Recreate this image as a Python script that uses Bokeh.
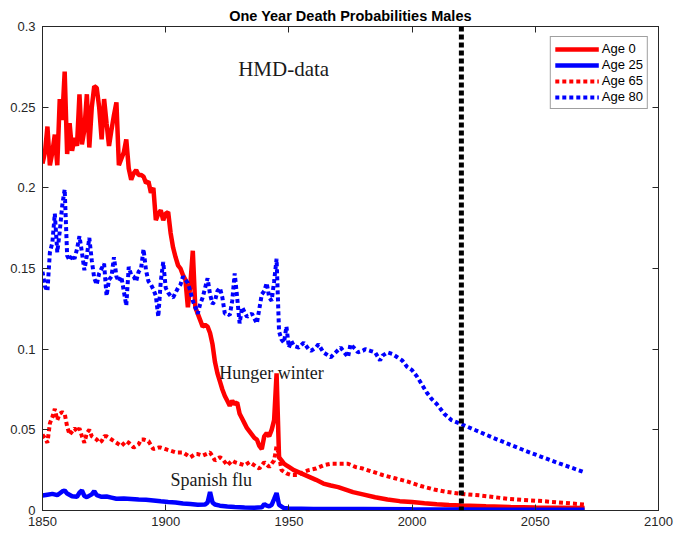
from bokeh.plotting import figure
from bokeh.models import (FixedTicker, LinearAxis, Legend, LegendItem, Span, Label, Range1d)
from bokeh.embed import file_html
from bokeh.resources import INLINE

# ---------------- data ----------------
title_text = "One Year Death Probabilities Males"
x_ticks = [1850, 1900, 1950, 2000, 2050, 2100]
y_ticks = [0, 0.05, 0.1, 0.15, 0.2, 0.25, 0.3]
y_tick_labels = ["0", "0.05", "0.1", "0.15", "0.2", "0.25", "0.3"]
series_names = ["Age 0", "Age 25", "Age 65", "Age 80"]

age0_years = [1850, 1851, 1852, 1853, 1854, 1855, 1856, 1857, 1858, 1859,
              1860, 1861, 1862, 1863, 1864, 1865, 1866, 1867, 1868, 1869,
              1870, 1871, 1872, 1873, 1874, 1875, 1876, 1877, 1878, 1879,
              1880, 1881, 1882, 1883, 1884, 1885, 1886, 1887, 1888, 1889,
              1890, 1891, 1892, 1893, 1894, 1895, 1896, 1897, 1898, 1899,
              1900, 1901, 1902, 1903, 1904, 1905, 1906, 1907, 1908, 1909,
              1910, 1911, 1912, 1913, 1914, 1915, 1916, 1917, 1918, 1919,
              1920, 1921, 1922, 1923, 1924, 1925, 1926, 1927, 1928, 1929,
              1930, 1931, 1932, 1933, 1934, 1935, 1936, 1937, 1938, 1939,
              1940, 1941, 1942, 1943, 1944, 1945, 1946, 1947, 1948, 1949,
              1950, 1952, 1955, 1958, 1961, 1964, 1967, 1970, 1973, 1976,
              1980, 1985, 1990, 1995, 2000, 2005, 2010, 2015, 2020, 2030,
              2040, 2050, 2060, 2070]
age0_q = [0.215, 0.222, 0.238, 0.214, 0.222, 0.233, 0.214, 0.255, 0.242, 0.272,
          0.221, 0.240, 0.223, 0.231, 0.226, 0.258, 0.227, 0.236, 0.258, 0.225,
          0.250, 0.263, 0.262, 0.250, 0.230, 0.255, 0.240, 0.226, 0.236, 0.245,
          0.253, 0.214, 0.218, 0.222, 0.230, 0.212, 0.205, 0.209, 0.211, 0.208,
          0.208, 0.207, 0.203, 0.204, 0.197, 0.200, 0.180, 0.184, 0.186, 0.180,
          0.184, 0.185, 0.172, 0.163, 0.157, 0.152, 0.150, 0.146, 0.143, 0.126,
          0.140, 0.161, 0.126, 0.122, 0.118, 0.114, 0.115, 0.114, 0.110, 0.103,
          0.092, 0.085, 0.080, 0.075, 0.071, 0.068, 0.065, 0.068, 0.066, 0.067,
          0.060, 0.057, 0.054, 0.051, 0.049, 0.047, 0.045, 0.044, 0.040, 0.038,
          0.046, 0.048, 0.046, 0.050, 0.056, 0.085, 0.033, 0.031, 0.029, 0.028,
          0.027, 0.025, 0.023, 0.021, 0.019, 0.0167, 0.0155, 0.0145, 0.013, 0.0114,
          0.010, 0.0082, 0.0068, 0.0058, 0.0052, 0.0045, 0.0039, 0.0034, 0.0031, 0.0026,
          0.0022, 0.0019, 0.0017, 0.0015]

age25_years = [1850, 1852, 1854, 1856, 1858, 1859, 1860, 1862, 1864, 1865,
               1866, 1867, 1868, 1870, 1871, 1872, 1874, 1876, 1878, 1880,
               1883, 1886, 1889, 1892, 1895, 1898, 1901, 1904, 1907, 1910,
               1913, 1916, 1917, 1918, 1919, 1920, 1922, 1925, 1928, 1932,
               1936, 1939, 1940, 1941, 1942, 1943, 1944, 1945, 1946, 1948,
               1950, 1960, 1980, 2000, 2020, 2040, 2070]
age25_q = [0.0093, 0.0098, 0.0103, 0.0095, 0.0118, 0.0124, 0.0105, 0.0088, 0.0085, 0.0110,
           0.0124, 0.0090, 0.0083, 0.0100, 0.0120, 0.0095, 0.0085, 0.0087, 0.0080, 0.0073,
           0.0075, 0.0072, 0.0068, 0.0066, 0.0062, 0.0057, 0.0053, 0.0050, 0.0043, 0.0040,
           0.0036, 0.0037, 0.0050, 0.0114, 0.0050, 0.0037, 0.0030, 0.0025, 0.0022, 0.0019,
           0.0017, 0.0020, 0.0040, 0.0030, 0.0025, 0.0035, 0.0070, 0.0108, 0.0035, 0.0015,
           0.0012, 0.0010, 0.0009, 0.0007, 0.0006, 0.0005, 0.0004]

age65_years = [1850, 1851, 1852, 1853, 1854, 1855, 1856, 1857, 1858, 1859,
               1860, 1861, 1862, 1863, 1864, 1865, 1866, 1867, 1868, 1869,
               1870, 1871, 1872, 1873, 1874, 1875, 1876, 1878, 1879, 1881,
               1882, 1884, 1885, 1887, 1889, 1890, 1891, 1893, 1895, 1897,
               1898, 1900, 1902, 1904, 1907, 1910, 1912, 1913, 1915, 1918,
               1920, 1922, 1923, 1925, 1927, 1928, 1930, 1932, 1934, 1936,
               1938, 1940, 1942, 1944, 1945, 1946, 1947, 1949, 1951, 1954,
               1956, 1958, 1961, 1964, 1967, 1971, 1974, 1977, 1980, 1984,
               1988, 1993, 1998, 2004, 2009, 2014, 2020, 2028, 2039, 2053,
               2070]
age65_q = [0.047, 0.045, 0.042, 0.054, 0.058, 0.063, 0.056, 0.060, 0.061, 0.060,
           0.052, 0.047, 0.049, 0.051, 0.049, 0.051, 0.046, 0.042, 0.048, 0.050,
           0.046, 0.045, 0.044, 0.042, 0.043, 0.046, 0.046, 0.044, 0.043, 0.041,
           0.040, 0.043, 0.042, 0.039, 0.041, 0.044, 0.044, 0.043, 0.038, 0.039,
           0.039, 0.038, 0.037, 0.036, 0.036, 0.033, 0.035, 0.035, 0.034, 0.036,
           0.031, 0.033, 0.032, 0.028, 0.031, 0.030, 0.029, 0.028, 0.030, 0.028,
           0.026, 0.030, 0.027, 0.031, 0.040, 0.034, 0.025, 0.023, 0.022, 0.022,
           0.024, 0.025, 0.026, 0.028, 0.029, 0.029, 0.029, 0.027, 0.026, 0.024,
           0.022, 0.020, 0.018, 0.015, 0.013, 0.0115, 0.0103, 0.0093, 0.0072, 0.0058,
           0.0037]

age80_years = [1850, 1851, 1852, 1853, 1854, 1855, 1856, 1857, 1858, 1859,
               1860, 1861, 1862, 1863, 1864, 1865, 1866, 1867, 1868, 1869,
               1870, 1871, 1872, 1873, 1874, 1875, 1876, 1877, 1878, 1879,
               1880, 1881, 1882, 1883, 1884, 1885, 1886, 1887, 1888, 1889,
               1890, 1891, 1892, 1893, 1894, 1895, 1896, 1897, 1898, 1899,
               1900, 1901, 1902, 1903, 1904, 1905, 1906, 1907, 1908, 1909,
               1910, 1911, 1912, 1913, 1914, 1915, 1916, 1917, 1918, 1919,
               1920, 1921, 1922, 1923, 1924, 1925, 1926, 1927, 1928, 1929,
               1930, 1931, 1932, 1933, 1934, 1935, 1936, 1937, 1938, 1939,
               1940, 1941, 1942, 1943, 1944, 1945, 1946, 1947, 1948, 1949,
               1950, 1951, 1952, 1954, 1956, 1958, 1959, 1961, 1962, 1964,
               1966, 1967, 1969, 1971, 1973, 1974, 1975, 1977, 1978, 1980,
               1981, 1983, 1985, 1987, 1988, 1990, 1992, 1994, 1996, 1998,
               2000, 2002, 2004, 2006, 2008, 2010, 2013, 2016, 2020, 2026,
               2033, 2039, 2046, 2053, 2060, 2070]
age80_q = [0.148, 0.139, 0.136, 0.160, 0.166, 0.184, 0.160, 0.173, 0.189, 0.199,
           0.158, 0.155, 0.158, 0.156, 0.162, 0.170, 0.160, 0.149, 0.158, 0.169,
           0.155, 0.144, 0.140, 0.147, 0.150, 0.153, 0.133, 0.143, 0.145, 0.157,
           0.145, 0.142, 0.145, 0.136, 0.127, 0.151, 0.146, 0.145, 0.142, 0.148,
           0.150, 0.162, 0.149, 0.142, 0.140, 0.137, 0.133, 0.120, 0.142, 0.154,
           0.138, 0.135, 0.133, 0.132, 0.135, 0.138, 0.140, 0.145, 0.143, 0.141,
           0.136, 0.130, 0.126, 0.122, 0.128, 0.132, 0.138, 0.144, 0.134, 0.128,
           0.130, 0.136, 0.138, 0.132, 0.122, 0.122, 0.121, 0.130, 0.147, 0.132,
           0.116, 0.126, 0.123, 0.120, 0.121, 0.122, 0.119, 0.116, 0.125, 0.134,
           0.136, 0.141, 0.132, 0.130, 0.142, 0.156, 0.111, 0.106, 0.104, 0.114,
           0.101, 0.105, 0.102, 0.101, 0.104, 0.100, 0.099, 0.101, 0.103, 0.098,
           0.096, 0.095, 0.098, 0.101, 0.097, 0.095, 0.103, 0.100, 0.098, 0.099,
           0.100, 0.099, 0.098, 0.093, 0.096, 0.098, 0.097, 0.095, 0.093, 0.089,
           0.087, 0.083, 0.078, 0.073, 0.069, 0.066, 0.060, 0.056, 0.0535, 0.0496,
           0.045, 0.0413, 0.037, 0.033, 0.029, 0.0237]

projection_year = 2020
note_texts = ["HMD-data", "Hunger winter", "Spanish flu"]
note_x = [1929.4, 1921.7, 1901.9]
note_y = [0.2737, 0.0855, 0.0186]
note_sizes = ["21px", "18px", "18px"]

# ---------------- figure ----------------
AX = "#262626"
p = figure(width=674, height=534,
           x_range=Range1d(1850, 2100), y_range=Range1d(0, 0.3),
           output_backend="svg", toolbar_location=None, title=title_text,
           min_border_left=42, min_border_right=16, min_border_top=26,
           min_border_bottom=24)
p.background_fill_color = "white"
p.border_fill_color = "white"
p.xgrid.visible = False
p.ygrid.visible = False
p.outline_line_color = AX
p.outline_line_width = 1

p.title.text_font = "Liberation Sans"
p.title.text_font_size = "14.5px"
p.title.text_font_style = "bold"
p.title.text_color = "black"
p.title.align = "center"
p.title.standoff = 5

def style_axis(ax, ticks, labels=None, standoff=4):
    ax.ticker = FixedTicker(ticks=ticks)
    ax.major_tick_in = 6
    ax.major_tick_out = 0
    ax.minor_tick_in = 0
    ax.minor_tick_out = 0
    ax.axis_line_color = AX
    ax.major_tick_line_color = AX
    ax.major_label_text_font = "Liberation Sans"
    ax.major_label_text_font_size = "13px"
    ax.major_label_text_color = AX
    ax.major_label_standoff = standoff
    if labels is not None:
        ax.major_label_overrides = {t: l for t, l in zip(ticks, labels)}

style_axis(p.xaxis[0], x_ticks, [str(t) for t in x_ticks], standoff=6)
style_axis(p.yaxis[0], y_ticks, y_tick_labels, standoff=7)

top_ax = LinearAxis()
style_axis(top_ax, x_ticks, ["" for _ in x_ticks], standoff=0)
p.add_layout(top_ax, "above")
right_ax = LinearAxis()
style_axis(right_ax, y_ticks, ["" for _ in y_ticks], standoff=0)
p.add_layout(right_ax, "right")

RED = "#ff0000"
BLUE = "#0000ff"
r0 = p.line(age0_years, age0_q, line_color=RED, line_width=4.5)
r25 = p.line(age25_years, age25_q, line_color=BLUE, line_width=4.5)
r65 = p.line(age65_years, age65_q, line_color=RED, line_width=4, line_dash="4 3")
r80 = p.line(age80_years, age80_q, line_color=BLUE, line_width=4, line_dash="4 3")

p.add_layout(Span(location=projection_year, dimension="height",
                  line_color="black", line_width=5, line_dash="5 3"))

for t, x, y, s in zip(note_texts, note_x, note_y, note_sizes):
    p.add_layout(Label(x=x, y=y, text=t, text_font="Liberation Serif",
                       text_font_size=s, text_color="#1a1a1a",
                       text_baseline="alphabetic", text_align="left"))

legend = Legend(items=[LegendItem(label=n, renderers=[r])
                       for n, r in zip(series_names, [r0, r25, r65, r80])],
                location="top_right")
legend.label_text_font = "Liberation Sans"
legend.label_text_font_size = "13px"
legend.label_text_color = "black"
legend.glyph_width = 44
legend.glyph_height = 14
legend.label_height = 14
legend.spacing = 1
legend.padding = 4
legend.margin = 10
legend.label_standoff = 3
legend.border_line_color = "#404040"
legend.border_line_width = 1
legend.background_fill_color = "white"
legend.background_fill_alpha = 1
p.add_layout(legend, "center")

open("out.html", "w").write(file_html(p, INLINE))
